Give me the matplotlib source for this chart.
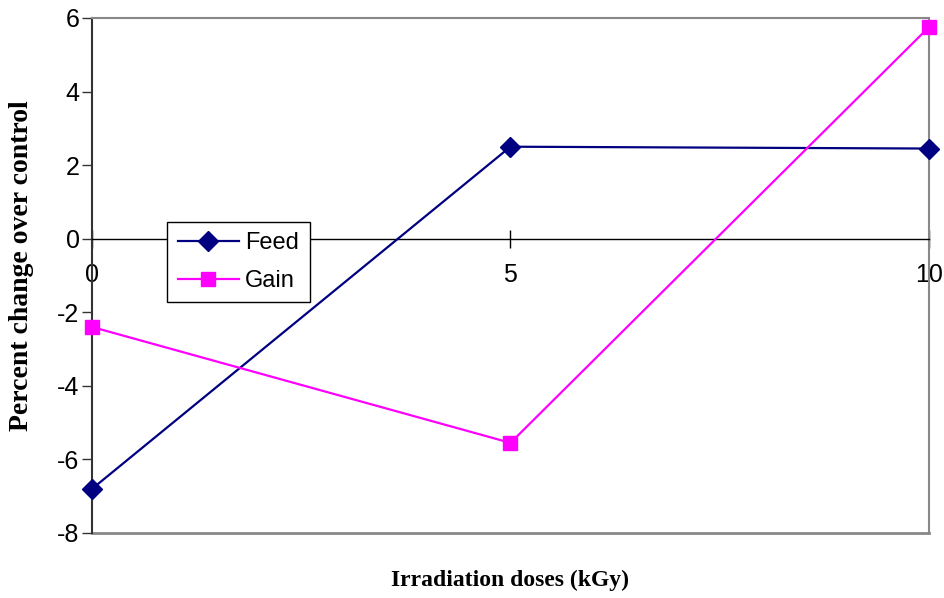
import matplotlib.pyplot as plt
from matplotlib.lines import Line2D

doses = [0, 5, 10]
feed = [-6.8, 2.5, 2.45]
gain = [-2.4, -5.55, 5.75]
y_ticks = [-8, -6, -4, -2, 0, 2, 4, 6]
x_ticks = [0, 5, 10]

fig = plt.figure(figsize=(9.44, 5.98), dpi=100)
ax = fig.add_axes([0.0975, 0.1087, 0.8865, 0.8613])

ax.plot(doses, feed, color='#000080', lw=1.6, marker='D', markersize=10,
        label='Feed', clip_on=False, zorder=4)
ax.plot(doses, gain, color='#FF00FF', lw=1.6, marker='s', markersize=10,
        label='Gain', clip_on=False, zorder=4)

ax.set_xlim(0, 10)
ax.set_ylim(-8, 6)

# gray frame, darker left axis, black zero line carrying the x ticks
for side in ['top', 'right']:
    ax.spines[side].set_color('#888888')
    ax.spines[side].set_linewidth(1.5)
ax.spines['left'].set_color('#333333')
ax.spines['left'].set_linewidth(1.5)
ax.spines['bottom'].set_position(('data', 0))
ax.spines['bottom'].set_color('black')
ax.spines['bottom'].set_linewidth(1.0)
ax.add_line(Line2D([0, 1], [0, 0], transform=ax.transAxes, color='#888888',
                   lw=2, clip_on=False))

ax.set_yticks(y_ticks)
ax.set_yticklabels([str(v) for v in y_ticks], family='Liberation Sans', fontsize=18)
ax.tick_params(axis='y', direction='out', length=7, width=1, color='#333333', pad=2)
ax.set_xticks(x_ticks)
ax.set_xticklabels([str(v) for v in x_ticks], family='Liberation Sans', fontsize=18)
ax.tick_params(axis='x', direction='inout', length=13, width=1, color='black', pad=11)

fig.text(0.023, 0.555, 'Percent change over control', rotation=90, ha='center',
         va='center', family='Liberation Serif', fontweight='bold', fontsize=20)
fig.text(0.54, 0.03, 'Irradiation doses (kGy)', ha='center', va='center',
         family='Liberation Serif', fontweight='bold', fontsize=17)

leg = fig.legend(loc='upper left', bbox_to_anchor=(0.177, 0.629), borderaxespad=0,
                 prop={'family': 'Liberation Sans', 'size': 17}, fancybox=False,
                 edgecolor='black', framealpha=1, handlelength=2.6,
                 handletextpad=0.25, borderpad=0.45, labelspacing=0.65)
leg.get_frame().set_linewidth(1)

fig.savefig('out.png', dpi=100)
